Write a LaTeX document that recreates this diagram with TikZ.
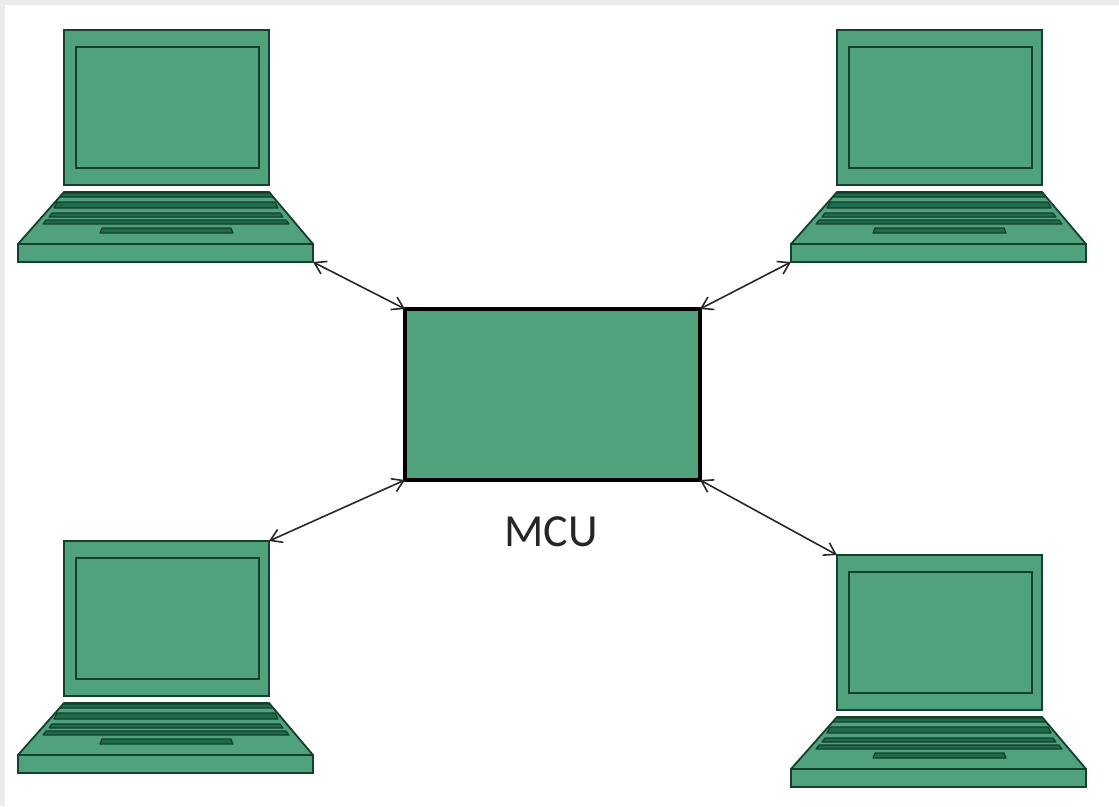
\documentclass[tikz,border=0pt]{standalone}
\usepackage{fontspec}
\setmainfont{Carlito}
\usetikzlibrary{arrows.meta}
\definecolor{lapgreen}{HTML}{4FA27C}
\definecolor{lapline}{HTML}{14402C}
\definecolor{keydark}{HTML}{1F6A4A}
\definecolor{pagegrey}{HTML}{EBEBEB}
\tikzset{
  x=1pt,y=-1pt,
  lapshape/.style={draw=lapline,fill=lapgreen,line width=1.8pt,line join=round},
  keyrow/.style={draw=lapline,fill=keydark,line width=1.2pt,line join=round},
  boxnode/.style={draw=lapline,fill=lapgreen,line width=1.8pt,inner sep=0pt,outer sep=0pt,anchor=north west},
  mcubox/.style={draw=black,fill=lapgreen,line width=3.4pt,inner sep=0pt,outer sep=0pt,anchor=north west,minimum width=295pt,minimum height=171pt},
  link/.style={draw={rgb,255:red,40;green,40;blue,40},line width=1.6pt,{Straight Barb[length=11pt,width=14pt]}-{Straight Barb[length=11pt,width=14pt]}},
}
% #1 name, #2 x of screen left, #3 y of screen top
\newcommand{\laptopdraw}[3]{%
  \begin{scope}[shift={(#2,#3)}]
    \node[boxnode,minimum width=205pt,minimum height=155pt] (#1screen) at (0,0) {};
    \draw[draw=lapline,line width=2.4pt] (12,17) rectangle (195,138);
    \draw[lapshape] (0,162) -- (205,162) -- (249,214) -- (-46,214) -- cycle;
    \draw[keyrow] (-1,163) -- (206,163) -- (209,167) -- (-4,167) -- cycle;
    \draw[keyrow] (-7,172) -- (211,172) -- (214,178) -- (-10,178) -- cycle;
    \draw[keyrow] (-12,183) -- (216,183) -- (219,187) -- (-15,187) -- cycle;
    \draw[keyrow] (-18,190) -- (222,190) -- (225,194) -- (-21,194) -- cycle;
    \draw[keyrow] (38,198) -- (167,198) -- (169,203) -- (36,203) -- cycle;
    \node[boxnode,minimum width=295pt,minimum height=18pt] (#1base) at (-46,214) {};
  \end{scope}}
\begin{document}
\begin{tikzpicture}
\useasboundingbox (0,0) rectangle (1119,806);
\fill[pagegrey] (0,0) rectangle (1119,806);
\fill[white] (5,5) rectangle (1119,806);
\laptopdraw{tl}{64}{30}
\laptopdraw{tr}{837}{30}
\laptopdraw{bl}{64}{541}
\laptopdraw{br}{837}{555}
\node[mcubox] (mcu) at (405,309) {};
\node[inner sep=0pt,font=\fontsize{46pt}{46pt}\selectfont,text=black!85] (mculabel) at (551,532) {MCU};
\draw[link] (tlbase.south east) -- (mcu.north west);
\draw[link] (trbase.south west) -- (mcu.north east);
\draw[link] (blscreen.north east) -- (mcu.south west);
\draw[link] (brscreen.north west) -- (mcu.south east);
\end{tikzpicture}
\end{document}
